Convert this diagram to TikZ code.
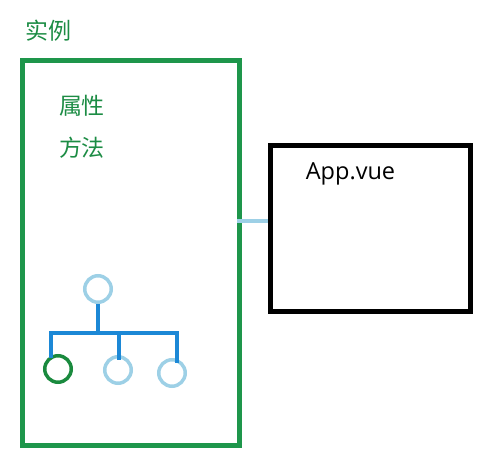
\documentclass[tikz,border=0pt]{standalone}
\usepackage{fontspec}
\newfontfamily\cjk{Noto Sans CJK SC}
\newfontfamily\latinf{Open Sans}
\usetikzlibrary{calc}
\definecolor{framegreen}{RGB}{30,150,75}
\definecolor{textgreen}{RGB}{28,140,68}
\definecolor{lightblue}{RGB}{157,208,230}
\definecolor{barblue}{RGB}{28,136,214}
\definecolor{darkgreen}{RGB}{26,138,62}
\tikzset{
  cjktext/.style={text=textgreen, font=\cjk\fontsize{23}{27}\selectfont, inner sep=0},
  ring/.style={circle, draw=#1, line width=3.5pt, minimum size=26.5pt, inner sep=0},
  treeline/.style={draw=barblue, line width=4pt, line join=miter},
  link/.style={draw=lightblue, line width=4pt},
}
\begin{document}
\begin{tikzpicture}[x=1pt,y=-1pt]
\useasboundingbox (0,0) rectangle (496,466);
\node[draw=framegreen, line width=4.5pt, minimum width=217pt, minimum height=385pt, inner sep=0] (inst) at (131,253) {};
\node[draw=black, line width=4.5pt, minimum width=200pt, minimum height=166pt, inner sep=0] (appbox) at (370.5,228.5) {};
\node[cjktext] (title) at (49,31) {实例};
\node[cjktext] (attr) at (82,106) {属性};
\node[cjktext] (meth) at (82,148) {方法};
\node[font=\latinf\fontsize{23.5}{27}\selectfont, inner sep=0] (app) at (350.5,174) {App.vue};
\node[ring=lightblue] (root) at (98,289) {};
\node[ring=darkgreen] (c1) at (58,369) {};
\node[ring=lightblue] (c2) at (118,370) {};
\node[ring=lightblue] (c3) at (172,373) {};
\coordinate (b1) at (51,333);
\coordinate (b2) at (119,333);
\coordinate (b4) at (177,333);
\draw[treeline] (root.south) -- (root.south |- b1);
\draw[treeline] ($(b1 |- c1.north)+(0,4)$) -- (b1) -- (b4) -- ($(b4 |- c3.north)+(0,5)$);
\draw[treeline] (b2) -- ($(b2 |- c2.north)+(0,5)$);
\coordinate (k) at (237,221);
\draw[link] (k) -- (k -| appbox.west);
\end{tikzpicture}
\end{document}
